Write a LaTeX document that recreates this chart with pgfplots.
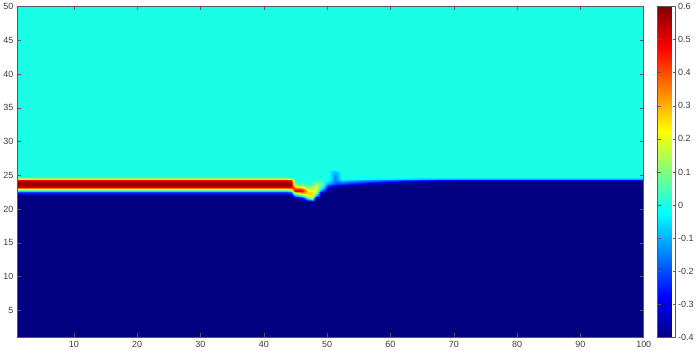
\documentclass[border=0pt]{standalone}
\usepackage{pgfplots}
\pgfplotsset{compat=1.18}
\usepackage{fontspec}
\setmainfont{Liberation Sans}
\definecolor{lblgray}{RGB}{60,60,60}
\definecolor{framegray}{RGB}{90,90,90}
\begin{document}
\begin{tikzpicture}
\begin{axis}[
  scale only axis, width=627bp, height=331bp,
  view={0}{90},
  xmin=1, xmax=100, ymin=1, ymax=50,
  colormap/jet, point meta min=-0.4, point meta max=0.6,
  xtick={10,20,30,40,50,60,70,80,90,100},
  ytick={5,10,15,20,25,30,35,40,45,50},
  tick align=inside, major tick length=4bp,
  axis on top,
  axis line style={draw=framegray, line width=0.5bp},
  every tick/.style={draw=framegray, line width=0.5bp},
  /pgf/number format/assume math mode=true,
  tick label style={font=\fontsize{9}{10}\selectfont, text=lblgray},
  colorbar,
  colorbar style={
    at={(1.0223,1)}, anchor=north west, width=18bp,
    ytick={-0.4,-0.3,-0.2,-0.1,0,0.1,0.2,0.3,0.4,0.5,0.6},
    yticklabels={-0.4,-0.3,-0.2,-0.1,0,0.1,0.2,0.3,0.4,0.5,0.6},
    tick align=inside, major tick length=3bp,
    axis line style={draw=framegray, line width=0.5bp},
    every tick/.style={draw=framegray, line width=0.5bp},
    yticklabel style={font=\fontsize{9}{10}\selectfont, text=lblgray, xshift=-1bp},
  },
]
\addplot3[surf, shader=interp] table {
x y z
1 1 -0.4
1 20.5 -0.4
1 21 -0.4
1 21.5 -0.4
1 21.75 -0.4
1 22 -0.4
1 22.25 -0.32
1 22.5 -0.2
1 22.75 -0.05
1 23 0.2
1 23.25 0.52
1 23.5 0.57
1 23.75 0.57
1 24 0.57
1 24.25 0.48
1 24.5 0.25
1 24.75 0.02
1 25 0
1 25.25 0
1 25.5 0
1 26 0
1 50 0

43.5 1 -0.4
43.5 20.5 -0.4
43.5 21 -0.4
43.5 21.5 -0.4
43.5 21.75 -0.4
43.5 22 -0.4
43.5 22.25 -0.32
43.5 22.5 -0.2
43.5 22.75 -0.05
43.5 23 0.2
43.5 23.25 0.52
43.5 23.5 0.57
43.5 23.75 0.57
43.5 24 0.57
43.5 24.25 0.48
43.5 24.5 0.25
43.5 24.75 0.02
43.5 25 0
43.5 25.25 0
43.5 25.5 0
43.5 26 0
43.5 50 0

44.3 1 -0.4
44.3 20.5 -0.4
44.3 21 -0.4
44.3 21.5 -0.4
44.3 21.75 -0.4
44.3 22 -0.37
44.3 22.25 -0.28
44.3 22.5 -0.15
44.3 22.75 0
44.3 23 0.25
44.3 23.25 0.5
44.3 23.5 0.56
44.3 23.75 0.57
44.3 24 0.55
44.3 24.25 0.42
44.3 24.5 0.15
44.3 24.75 0.01
44.3 25 0
44.3 25.25 0
44.3 25.5 0
44.3 26 0
44.3 50 0

45 1 -0.4
45 20.5 -0.4
45 21 -0.4
45 21.5 -0.4
45 21.75 -0.3
45 22 -0.15
45 22.25 0.05
45 22.5 0.3
45 22.75 0.5
45 23 0.45
45 23.25 0.28
45 23.5 0.12
45 23.75 0.06
45 24 0.03
45 24.25 0.01
45 24.5 0
45 24.75 0
45 25 0
45 25.25 0
45 25.5 0
45 26 0
45 50 0

46 1 -0.4
46 20.5 -0.4
46 21 -0.4
46 21.5 -0.33
46 21.75 -0.2
46 22 -0.02
46 22.25 0.2
46 22.5 0.38
46 22.75 0.48
46 23 0.4
46 23.25 0.22
46 23.5 0.1
46 23.75 0.05
46 24 0.02
46 24.25 0.01
46 24.5 0
46 24.75 0
46 25 0
46 25.25 0
46 25.5 0
46 26 0
46 50 0

47 1 -0.4
47 20.5 -0.4
47 21 -0.38
47 21.5 -0.1
47 21.75 0.12
47 22 0.22
47 22.25 0.25
47 22.5 0.26
47 22.75 0.24
47 23 0.18
47 23.25 0.1
47 23.5 0.05
47 23.75 0.02
47 24 0
47 24.25 0
47 24.5 0
47 24.75 0
47 25 0
47 25.25 0
47 25.5 0
47 26 0
47 50 0

47.6 1 -0.4
47.6 20.5 -0.4
47.6 21 -0.4
47.6 21.5 0
47.6 21.75 0.18
47.6 22 0.25
47.6 22.25 0.26
47.6 22.5 0.25
47.6 22.75 0.22
47.6 23 0.18
47.6 23.25 0.12
47.6 23.5 0.07
47.6 23.75 0.03
47.6 24 0.01
47.6 24.25 0
47.6 24.5 0
47.6 24.75 0
47.6 25 0
47.6 25.25 0
47.6 25.5 0
47.6 26 0
47.6 50 0

48.3 1 -0.4
48.3 20.5 -0.4
48.3 21 -0.4
48.3 21.5 -0.4
48.3 21.75 -0.3
48.3 22 -0.12
48.3 22.25 0.05
48.3 22.5 0.16
48.3 22.75 0.2
48.3 23 0.2
48.3 23.25 0.18
48.3 23.5 0.15
48.3 23.75 0.12
48.3 24 0.08
48.3 24.25 0.03
48.3 24.5 0
48.3 24.75 0
48.3 25 0
48.3 25.25 0
48.3 25.5 0
48.3 26 0
48.3 50 0

49 1 -0.4
49 20.5 -0.4
49 21 -0.4
49 21.5 -0.4
49 21.75 -0.4
49 22 -0.4
49 22.25 -0.4
49 22.5 -0.32
49 22.75 -0.18
49 23 -0.05
49 23.25 0.05
49 23.5 0.1
49 23.75 0.1
49 24 0.05
49 24.25 0.01
49 24.5 0
49 24.75 0
49 25 0
49 25.25 0
49 25.5 0
49 26 0
49 50 0

50.2 1 -0.4
50.2 20.5 -0.4
50.2 21 -0.4
50.2 21.5 -0.4
50.2 21.75 -0.4
50.2 22 -0.4
50.2 22.25 -0.4
50.2 22.5 -0.4
50.2 22.75 -0.4
50.2 23 -0.36
50.2 23.25 -0.28
50.2 23.5 -0.2
50.2 23.75 -0.13
50.2 24 -0.06
50.2 24.25 -0.02
50.2 24.5 0
50.2 24.75 0
50.2 25 0
50.2 25.25 0
50.2 25.5 0
50.2 26 0
50.2 50 0

51.3 1 -0.4
51.3 20.5 -0.4
51.3 21 -0.4
51.3 21.5 -0.4
51.3 21.75 -0.4
51.3 22 -0.4
51.3 22.25 -0.4
51.3 22.5 -0.4
51.3 22.75 -0.4
51.3 23 -0.4
51.3 23.25 -0.36
51.3 23.5 -0.28
51.3 23.75 -0.2
51.3 24 -0.17
51.3 24.25 -0.15
51.3 24.5 -0.15
51.3 24.75 -0.15
51.3 25 -0.14
51.3 25.25 -0.13
51.3 25.5 -0.11
51.3 26 0
51.3 50 0

52.4 1 -0.4
52.4 20.5 -0.4
52.4 21 -0.4
52.4 21.5 -0.4
52.4 21.75 -0.4
52.4 22 -0.4
52.4 22.25 -0.4
52.4 22.5 -0.4
52.4 22.75 -0.4
52.4 23 -0.4
52.4 23.25 -0.38
52.4 23.5 -0.3
52.4 23.75 -0.22
52.4 24 -0.14
52.4 24.25 -0.05
52.4 24.5 -0.01
52.4 24.75 0
52.4 25 0
52.4 25.25 0
52.4 25.5 0
52.4 26 0
52.4 50 0

55 1 -0.4
55 20.5 -0.4
55 21 -0.4
55 21.5 -0.4
55 21.75 -0.4
55 22 -0.4
55 22.25 -0.4
55 22.5 -0.4
55 22.75 -0.4
55 23 -0.4
55 23.25 -0.4
55 23.5 -0.38
55 23.75 -0.3
55 24 -0.2
55 24.25 -0.1
55 24.5 -0.02
55 24.75 0
55 25 0
55 25.25 0
55 25.5 0
55 26 0
55 50 0

60 1 -0.4
60 20.5 -0.4
60 21 -0.4
60 21.5 -0.4
60 21.75 -0.4
60 22 -0.4
60 22.25 -0.4
60 22.5 -0.4
60 22.75 -0.4
60 23 -0.4
60 23.25 -0.4
60 23.5 -0.4
60 23.75 -0.38
60 24 -0.3
60 24.25 -0.18
60 24.5 -0.05
60 24.75 0
60 25 0
60 25.25 0
60 25.5 0
60 26 0
60 50 0

70 1 -0.4
70 20.5 -0.4
70 21 -0.4
70 21.5 -0.4
70 21.75 -0.4
70 22 -0.4
70 22.25 -0.4
70 22.5 -0.4
70 22.75 -0.4
70 23 -0.4
70 23.25 -0.4
70 23.5 -0.4
70 23.75 -0.4
70 24 -0.4
70 24.25 -0.3
70 24.5 -0.1
70 24.75 0
70 25 0
70 25.25 0
70 25.5 0
70 26 0
70 50 0

100 1 -0.4
100 20.5 -0.4
100 21 -0.4
100 21.5 -0.4
100 21.75 -0.4
100 22 -0.4
100 22.25 -0.4
100 22.5 -0.4
100 22.75 -0.4
100 23 -0.4
100 23.25 -0.4
100 23.5 -0.4
100 23.75 -0.4
100 24 -0.4
100 24.25 -0.3
100 24.5 -0.1
100 24.75 0
100 25 0
100 25.25 0
100 25.5 0
100 26 0
100 50 0
};
\end{axis}
\end{tikzpicture}
\end{document}
